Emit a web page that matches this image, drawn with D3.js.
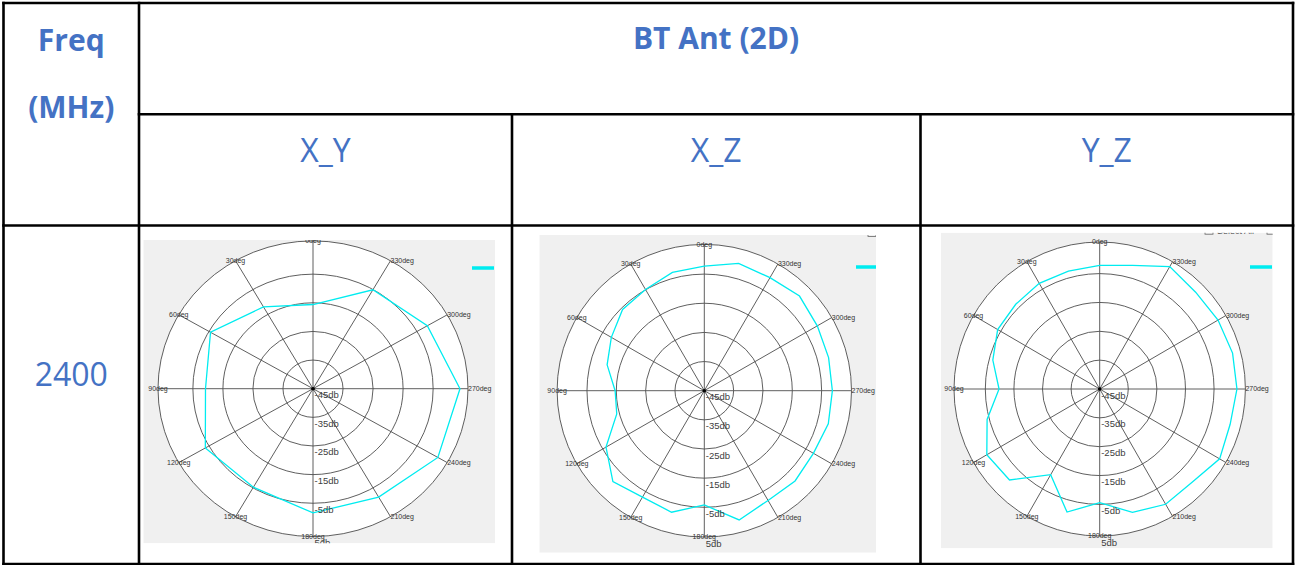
<!DOCTYPE html>
<html>
<head>
<meta charset="utf-8">
<script src="https://cdn.jsdelivr.net/npm/d3@7"></script>
<style>
  body { margin: 0; background: #fff; }
  svg { display: block; }
</style>
</head>
<body>
<div id="data-vis"></div>
<script>
//DATA
//Table texts
const freqTitle = ["Freq", "(MHz)"];
const groupTitle = "BT Ant (2D)";
const planeLabels = ["X_Y", "X_Z", "Y_Z"];
const freqLabels = ["2400"];

//Measured angles (deg, counter-clockwise from top)
const xyAngles = [0, 30, 60, 90, 120, 150, 180, 210, 240, 270, 300, 330];
const xzAngles = [0, 15, 30, 45, 60, 75, 90, 105, 120, 135, 150, 165, 180, 195, 210, 225, 240, 255, 270, 285, 300, 315, 330, 345];
const yzAngles = [0, 15, 30, 45, 60, 75, 90, 105, 120, 135, 150, 165, 180, 195, 210, 225, 240, 255, 270, 285, 300, 315, 330, 345];

//Gain (db)
const xyGain = [-15.6, -12.0, -5.6, -9.2, -3.8, -5.3, -2.1, -1.8, 1.9, 2.7, -1.6, -5.1];
const xzGain = [-2.3, -3.0, -4.9, -5.6, -8.4, -10.7, -14.6, -14.1, -6.3, -1.0, -2.9, -1.9, -5.8, 0.8, -1.6, -1.3, -2.1, -1.3, -1.4, -1.2, -0.6, 0.8, -0.3, 0.1];
const yzGain = [-2.4, -2.9, -2.9, -3.6, -3.9, -6.3, -9.8, -4.3, 0.1, -0.8, -10.7, -1.2, -5.6, -1.1, 0.6, 0.2, 2.7, 1.6, 2.3, 2.4, 2.1, 1.8, 3.2, -1.0];

//Radial ticks and spokes
const ringValues = [-45, -35, -25, -15, -5, 5];
const ringLabels = ["-45db", "-35db", "-25db", "-15db", "-5db", "5db"];
const spokeAngles = [0, 30, 60, 90, 120, 150, 180, 210, 240, 270, 300, 330];
const spokeLabels = ["0deg", "30deg", "60deg", "90deg", "120deg", "150deg", "180deg", "210deg", "240deg", "270deg", "300deg", "330deg"];

//SCRIPT PROPERTIES
const w = 1297;
const h = 565;
const blue = "#4472C4";
const traceColour = "#00ecf0";
const gridColour = "#4d4d4d";

//Table grid lines
const colX = [3.5, 139, 512, 920.5, 1293];
const rowY = [3, 114.3, 225.5, 564];

//Where each screenshot of a pattern sits
const chartLayout = [
    {box: [143.3, 240, 351.7, 303.3], cx: 313, cy: 388.7, rx: 155, ry: 147.8, ringFrac: 0.775, legend: [472, 268]},
    {box: [539.3, 235, 336.7, 317.7], cx: 704.3, cy: 390.7, rx: 147.2, ry: 146.3, ringFrac: 0.797, legend: [856, 267]},
    {box: [941, 232.7, 331.7, 315.6], cx: 1099.7, cy: 389, rx: 145.7, ry: 147, ringFrac: 0.785, legend: [1250, 267]}
];

const patterns = [
    {angles: xyAngles, gain: xyGain},
    {angles: xzAngles, gain: xzGain},
    {angles: yzAngles, gain: yzGain}
];

//Build svg
const svg = d3.select("#data-vis")
    .append("svg")
    .attr("width", w)
    .attr("height", h)
    .style("background-color", "white");

//Clip paths for the screenshots
const defs = svg.append("defs");
chartLayout.forEach((c, i) => {
    defs.append("clipPath").attr("id", "clip" + i)
        .append("rect")
        .attr("x", c.box[0]).attr("y", c.box[1])
        .attr("width", c.box[2]).attr("height", c.box[3]);
});

//Draw one polar pattern
function drawPolar(c, i, p) {
    const g = svg.append("g").attr("clip-path", `url(#clip${i})`);

    //Grey window background
    g.append("rect")
        .attr("x", c.box[0]).attr("y", c.box[1])
        .attr("width", c.box[2]).attr("height", c.box[3])
        .attr("fill", "#f0f0f0");

    const R = c.ry;
    const kx = c.rx / c.ry;

    //Radius scale: inner rings evenly spaced, outer band a little wider
    const r = d3.scaleLinear().domain([-45, -5, 5]).range([0, c.ringFrac * R, R]);
    //Angle scale: counter-clockwise from top
    const a = d3.scaleLinear().domain([0, 360]).range([0, -2 * Math.PI]);

    const plot = g.append("g")
        .attr("transform", `translate(${c.cx},${c.cy}) scale(${kx},1)`);

    //Outer circle
    plot.append("circle")
        .attr("r", r(5))
        .attr("fill", "white")
        .attr("stroke", gridColour)
        .attr("stroke-width", 0.9)
        .attr("vector-effect", "non-scaling-stroke");

    //Rings
    plot.selectAll(".ring")
        .data(ringValues.slice(1, -1))
        .enter()
        .append("circle")
        .attr("r", d => r(d))
        .attr("fill", "none")
        .attr("stroke", gridColour)
        .attr("stroke-width", 0.9)
        .attr("vector-effect", "non-scaling-stroke");

    //Spokes
    plot.selectAll(".spoke")
        .data(spokeAngles)
        .enter()
        .append("line")
        .attr("x1", 0).attr("y1", 0)
        .attr("x2", d => r(5) * Math.sin(a(d)))
        .attr("y2", d => -r(5) * Math.cos(a(d)))
        .attr("stroke", gridColour)
        .attr("stroke-width", 0.9)
        .attr("vector-effect", "non-scaling-stroke");

    //Pattern trace
    const pts = p.angles.map((d, j) => ({ang: d, v: p.gain[j]}));
    const line = d3.lineRadial()
        .angle(d => a(d.ang))
        .radius(d => r(d.v))
        .curve(d3.curveLinearClosed);

    plot.append("path")
        .attr("d", line(pts))
        .attr("fill", "none")
        .attr("stroke", traceColour)
        .attr("stroke-width", 1.3)
        .attr("vector-effect", "non-scaling-stroke");

    //Centre dot
    plot.append("circle")
        .attr("r", 1.8)
        .attr("fill", "#000");

    //Degree labels
    g.selectAll(".deg")
        .data(spokeAngles)
        .enter()
        .append("text")
        .attr("x", d => c.cx + kx * r(5) * Math.sin(a(d)))
        .attr("y", d => c.cy - r(5) * Math.cos(a(d)))
        .attr("dy", "0.35em")
        .attr("text-anchor", d => (d > 180 ? "start" : "middle"))
        .attr("font-family", "Liberation Sans, Arial, sans-serif")
        .attr("font-size", 7)
        .attr("fill", "#333")
        .text((d, j) => spokeLabels[j]);

    //db labels
    g.selectAll(".db")
        .data(ringValues)
        .enter()
        .append("text")
        .attr("x", c.cx + 1.5)
        .attr("y", d => c.cy + r(d) + 9.5)
        .attr("font-family", "Liberation Sans, Arial, sans-serif")
        .attr("font-size", 9.5)
        .attr("fill", "#404040")
        .text((d, j) => ringLabels[j]);

    //Legend swatch
    g.append("line")
        .attr("x1", c.legend[0]).attr("x2", c.legend[0] + 22)
        .attr("y1", c.legend[1]).attr("y2", c.legend[1])
        .attr("stroke", traceColour)
        .attr("stroke-width", 3.5);

    //Clipped "Select All" control peeking in at the top
    if (i > 0) {
        const sx = i === 1 ? c.box[0] + c.box[2] - 8 : 1205;
        g.append("rect")
            .attr("x", sx).attr("y", c.box[1] - 8)
            .attr("width", 8).attr("height", 9.5)
            .attr("fill", "none")
            .attr("stroke", "#666")
            .attr("stroke-width", 0.8);
        if (i === 2) {
            g.append("text")
                .attr("x", sx + 12).attr("y", c.box[1] + 1.5)
                .attr("font-family", "Liberation Sans, Arial, sans-serif")
                .attr("font-size", 9)
                .attr("fill", "#555")
                .text("Select All");
            g.append("rect")
                .attr("x", 1267).attr("y", c.box[1] - 8)
                .attr("width", 8).attr("height", 9.5)
                .attr("fill", "none")
                .attr("stroke", "#666")
                .attr("stroke-width", 0.8);
        }
    }
}

chartLayout.forEach((c, i) => drawPolar(c, i, patterns[i]));

//TABLE TEXT
const head = svg.append("g").attr("font-family", "Open Sans, sans-serif").attr("fill", blue);

head.selectAll(".freqTitle")
    .data(freqTitle)
    .enter()
    .append("text")
    .attr("x", (colX[0] + colX[1]) / 2)
    .attr("y", (d, i) => [50.5, 118][i])
    .attr("text-anchor", "middle")
    .attr("font-weight", "bold")
    .attr("font-size", 30)
    .text(d => d);

head.append("text")
    .attr("x", (colX[1] + colX[4]) / 2)
    .attr("y", 49)
    .attr("text-anchor", "middle")
    .attr("font-weight", "bold")
    .attr("font-size", 30)
    .text(groupTitle);

head.selectAll(".plane")
    .data(planeLabels)
    .enter()
    .append("text")
    .attr("x", (d, i) => (colX[i + 1] + colX[i + 2]) / 2)
    .attr("y", 161.7)
    .attr("text-anchor", "middle")
    .attr("font-size", 32)
    .text(d => d);

head.selectAll(".freq")
    .data(freqLabels)
    .enter()
    .append("text")
    .attr("x", (colX[0] + colX[1]) / 2)
    .attr("y", 386)
    .attr("text-anchor", "middle")
    .attr("font-size", 32)
    .text(d => d);

//TABLE LINES
const grid = svg.append("g").attr("stroke", "#000").attr("stroke-width", 2.6).attr("stroke-linecap", "square");
//Horizontal
grid.append("line").attr("x1", colX[0]).attr("x2", colX[4]).attr("y1", rowY[0]).attr("y2", rowY[0]);
grid.append("line").attr("x1", colX[1]).attr("x2", colX[4]).attr("y1", rowY[1]).attr("y2", rowY[1]);
grid.append("line").attr("x1", colX[0]).attr("x2", colX[4]).attr("y1", rowY[2]).attr("y2", rowY[2]);
grid.append("line").attr("x1", colX[0]).attr("x2", colX[4]).attr("y1", rowY[3]).attr("y2", rowY[3]);
//Vertical
grid.append("line").attr("x1", colX[0]).attr("x2", colX[0]).attr("y1", rowY[0]).attr("y2", h);
grid.append("line").attr("x1", colX[1]).attr("x2", colX[1]).attr("y1", rowY[0]).attr("y2", h);
grid.append("line").attr("x1", colX[2]).attr("x2", colX[2]).attr("y1", rowY[1]).attr("y2", h);
grid.append("line").attr("x1", colX[3]).attr("x2", colX[3]).attr("y1", rowY[1]).attr("y2", h);
grid.append("line").attr("x1", colX[4]).attr("x2", colX[4]).attr("y1", rowY[0]).attr("y2", h);
</script>
</body>
</html>
